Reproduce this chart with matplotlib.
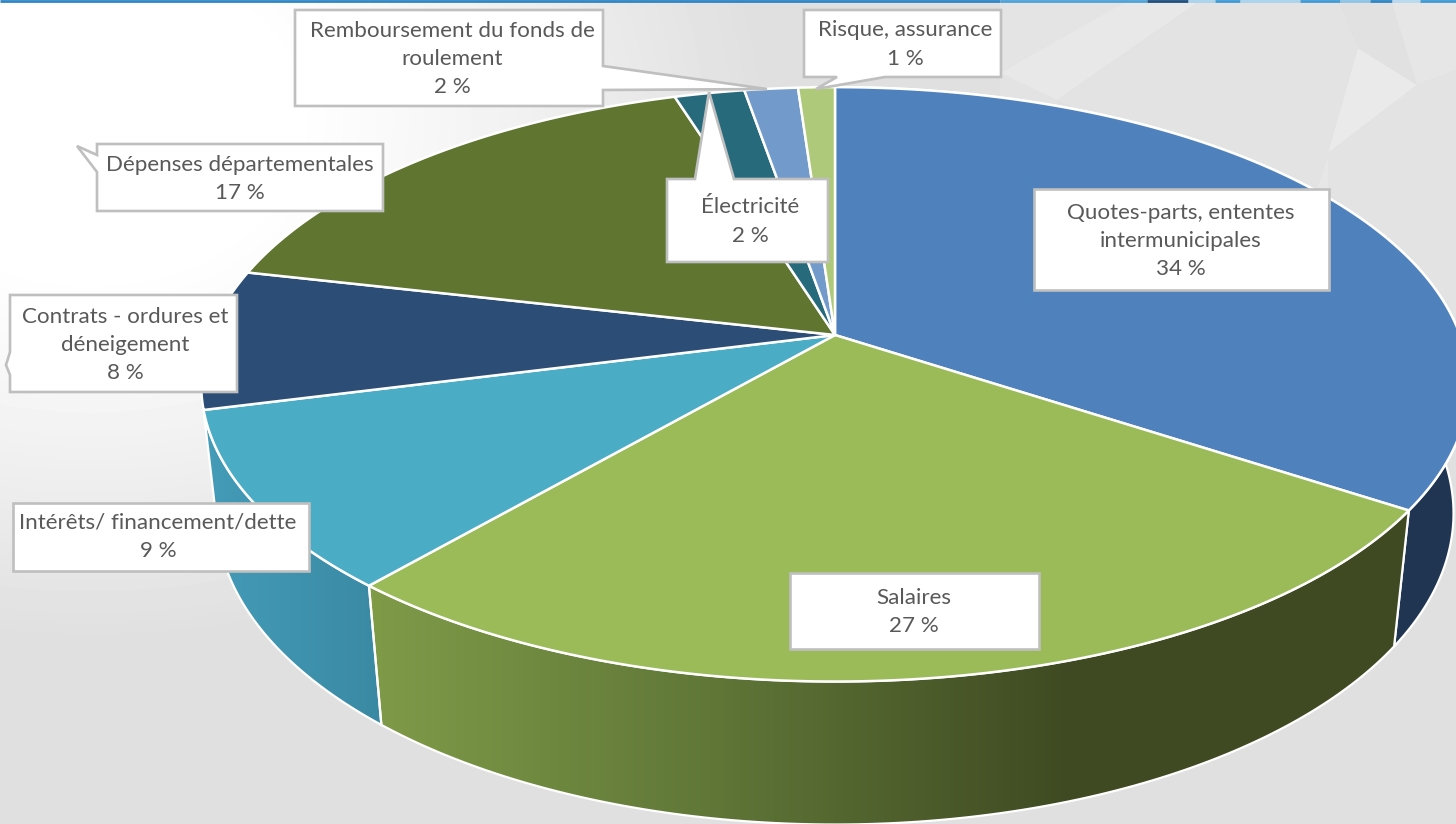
import numpy as np
import matplotlib
matplotlib.use("Agg")
import matplotlib.pyplot as plt
from matplotlib.patches import Polygon
from matplotlib.colors import LinearSegmentedColormap

# ---- data (clockwise from 12 o'clock) ----
categories = ["Quotes-parts, ententes\nintermunicipales", "Salaires", "Intérêts/ financement/dette",
              "Contrats - ordures et\ndéneigement", "Dépenses départementales", "Électricité",
              "Remboursement du fonds de\nroulement", "Risque, assurance"]
shares = [34.3, 27.0, 9.7, 7.6, 16.6, 2.1, 1.6, 1.1]      # read from the slice boundaries
pct_labels = ["34 %", "27 %", "9 %", "8 %", "17 %", "2 %", "2 %", "1 %"]
top_colors = ["#4f81bd", "#9bbb59", "#4bacc6", "#2c4d75", "#5f7530", "#276a7c", "#729aca", "#afc97a"]

W, H = 1456, 824
fig = plt.figure(figsize=(W / 100, H / 100), dpi=100)
ax = fig.add_axes([0, 0, 1, 1])
ax.set_xlim(0, W)
ax.set_ylim(H, 0)
ax.axis("off")
plt.rcParams["font.family"] = ["Lato", "DejaVu Sans"]

# ---- background ----
yy, xx = np.mgrid[0:H, 0:W]
d = np.hypot((xx - 90) / 560.0, (yy - 120) / 430.0)
t = np.clip((d - 0.35) / 0.85, 0, 1)
bg = 1.0 - (1.0 - 0.878) * t ** 1.1
ax.imshow(bg, cmap="gray", vmin=0, vmax=1, extent=(0, W, H, 0), aspect="auto", zorder=0, interpolation="bilinear")
facets = [([1000, 1123, 1000], [3, 3, 73], "#e4e4e4"),
          ([1000, 1057, 1057, 1000], [73, 100, 135, 110], "#e3e3e3"),
          ([1000, 1123, 1197, 1057], [73, 3, 3, 100], "#e8e8e8"),
          ([1197, 1340, 1358, 1328, 1340, 1057], [3, 3, 48, 153, 230, 100], "#e3e3e3"),
          ([1358, 1417, 1328], [48, 85, 153], "#eaeaea"),
          ([1328, 1370, 1317], [157, 200, 190], "#e7e7e7"),
          ([1340, 1392, 1417, 1358], [3, 3, 85, 48], "#e1e1e1"),
          ([1392, 1456, 1456, 1417], [3, 3, 70, 85], "#e6e6e6"),
          ([1417, 1456, 1456, 1328, 1328], [85, 70, 330, 330, 153], "#e3e3e3")]
for fx, fy, fc in facets:
    ax.add_patch(Polygon(np.c_[fx, fy], closed=True, fc=fc, ec="none", zorder=0.5))

ax.plot([0, 1000], [1, 1], color="#2f86c4", lw=2.0, zorder=1, solid_capstyle="butt")
bar_segments = [(1000, 1147, "#4fa3d8"), (1147, 1188, "#1d4f80"), (1188, 1215, "#a9d3ee"),
                (1215, 1240, "#3f9ad6"), (1240, 1300, "#a9d3ee"), (1300, 1340, "#3f9ad6"),
                (1340, 1370, "#8cc4e8"), (1370, 1392, "#2f86c4"), (1392, 1420, "#b7daf0"),
                (1420, 1456, "#3f9ad6")]
for a, b, col in bar_segments:
    ax.plot([a, b], [1, 1], color=col, lw=2.0, zorder=1, solid_capstyle="butt")

# ---- perspective projection of the pie ----
CX, CY, R, S, K, DEPTH, C = 835, 335, 625, 289, 0.166, 131, 0.024

def project(theta, z=0.0):
    u, v = np.sin(theta), np.cos(theta)
    w = 1 + K * v + C * z
    return CX + R * u / w, CY + (-S * v + DEPTH * z) / w

edges = np.radians(np.r_[0, np.cumsum(shares)] / sum(shares) * 360)

salaires_cmap = LinearSegmentedColormap.from_list("s", ["#7f9b48", "#5f7637", "#3f4a22", "#3f4a22"])
interets_cmap = LinearSegmentedColormap.from_list("i", ["#449cb8", "#3a89a3"])
walls = {0: "#1f3552", 1: (salaires_cmap, 370, 1415), 2: (interets_cmap, 204, 385)}

for i, style in walls.items():
    th = np.linspace(edges[i], edges[i + 1], 120)
    xt, yt = project(th, 0)
    xb, yb = project(th, 1)
    poly = np.r_[np.c_[xt, yt], np.c_[xb, yb][::-1]]
    if isinstance(style, str):
        ax.add_patch(Polygon(poly, closed=True, fc=style, ec="white", lw=1.6, zorder=2))
    else:
        cmap, x0, x1 = style
        p = Polygon(poly, closed=True, fc="none", ec="none", zorder=2)
        ax.add_patch(p)
        im = ax.imshow(np.linspace(0, 1, 256)[None, :], cmap=cmap, extent=(x0, x1, H, 0),
                       aspect="auto", zorder=2 + 0.01 * i)
        im.set_clip_path(p)
        ax.add_patch(Polygon(poly, closed=True, fc="none", ec="white", lw=1.6, zorder=2.1))

for i in range(len(shares)):
    th = np.linspace(edges[i], edges[i + 1], 120)
    xt, yt = project(th, 0)
    poly = np.r_[[[CX, CY]], np.c_[xt, yt]]
    ax.add_patch(Polygon(poly, closed=True, fc=top_colors[i], ec="white", lw=1.8, joinstyle="round", zorder=3))

ax.set_xlim(0, W)
ax.set_ylim(H, 0)

# ---- callouts: box (x0, y0, x1, y1), pointer vertices, text centre ----
def callout(x0, y0, x1, y1, text, side, ptr, tx, ty):
    outline = [(x0, y0)]
    if side == "top":
        outline += list(ptr)
    outline.append((x1, y0))
    if side == "right":
        outline += list(ptr)
    outline.append((x1, y1))
    if side == "bottom":
        outline += list(ptr)
    outline.append((x0, y1))
    if side == "left":
        outline += list(ptr)
    ax.add_patch(Polygon(outline, closed=True, fc="white", ec="#bfbfbf", lw=1.9, joinstyle="miter", zorder=5))
    ax.text(tx, ty, text, ha="center", va="center", color="#595959",
            fontsize=16.1, linespacing=1.53, zorder=6)

boxes = [
    (1034, 189, 1329, 290, None, (), 1181, 241),
    (790, 573, 1039, 649, None, (), 914, 612),
    (13, 503, 309, 571, None, (), 158, 537),
    (10, 295, 237, 392, "left", [(10, 375), (6, 365), (10, 352)], 125.5, 345),
    (97, 144, 383, 211, "left", [(97, 172), (77, 146), (97, 155)], 240, 179),
    (667, 179, 828, 262, "top", [(695, 179), (709, 92), (734, 179)], 750, 221.5),
    (295, 10, 603, 106, "right", [(603, 66), (767, 89), (603, 90)], 452, 59),
    (804, 10, 1001, 77, "bottom", [(885, 77), (816, 89), (837, 77)], 905, 44.5),
]
for (x0, y0, x1, y1, side, ptr, tx, ty), c, p in zip(boxes, categories, pct_labels):
    callout(x0, y0, x1, y1, c + "\n" + p, side, ptr, tx, ty)

fig.savefig("out.png", dpi=100)
